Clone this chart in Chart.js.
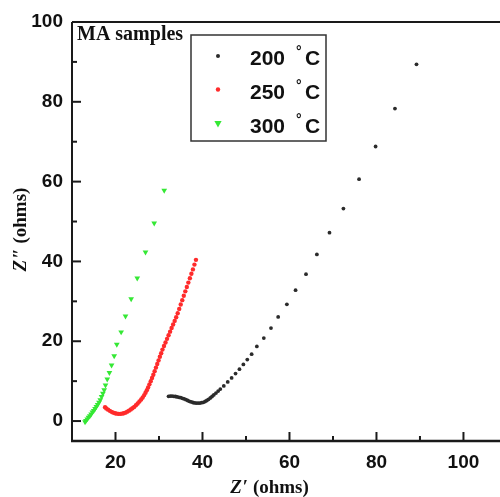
<!DOCTYPE html>
<html>
<head>
<meta charset="utf-8">
<script src="https://cdn.jsdelivr.net/npm/chart.js@4.4.1/dist/chart.umd.min.js"></script>
<style>
  html, body { margin: 0; padding: 0; background: #fff; }
  #wrap { width: 500px; height: 497px; }
</style>
</head>
<body>
<div id="wrap"><canvas id="c" width="500" height="497"></canvas></div>
<script>
// ---- data ----
const xTicks = [20, 40, 60, 80, 100];
const xMinorTicks = [30, 50, 70, 90];
const yTicks = [0, 20, 40, 60, 80, 100];
const yMinorTicks = [10, 30, 50, 70, 90];
const seriesNames = ['200', '250', '300'];

const data200 = [
  [32.2,6.2],[32.6,6.25],[33.0,6.25],[33.4,6.2],[33.8,6.15],[34.2,6.05],[34.6,5.95],
  [35.0,5.85],[35.4,5.7],[35.8,5.55],[36.2,5.35],[36.6,5.15],[37.0,4.95],[37.4,4.8],
  [37.8,4.65],[38.2,4.55],[38.6,4.5],[39.0,4.5],[39.4,4.5],[39.8,4.6],[40.2,4.7],
  [40.6,4.9],[41.0,5.15],[41.4,5.45],[41.8,5.8],[42.2,6.15],[42.6,6.55],[43.1,7.0],
  [43.6,7.5],[44.1,8.0],[44.9,8.8],[45.8,9.8],[46.7,10.8],[47.6,11.9],[48.5,13.0],
  [49.4,14.2],[50.3,15.4],[51.3,16.75],[52.5,18.7],[54.1,20.8],[55.75,23.3],[57.4,26.1],
  [59.4,29.25],[61.4,32.8],[63.8,36.8],[66.3,41.75],[69.2,47.2],[72.4,53.25],[76.0,60.6],
  [79.8,68.8],[84.25,78.3],[89.2,89.4]
];

const data250 = [
  [38.5,40.4],[38.15,39.2],[37.8,38.0],[37.45,36.9],[37.1,35.8],[36.75,34.7],[36.4,33.6],
  [36.05,32.5],[35.7,31.4],[35.35,30.3],[35.0,29.2],[34.65,28.1],[34.3,27.0],[33.95,26.0],
  [33.6,25.1],[33.25,24.2],[32.9,23.3],[32.55,22.4],[32.2,21.5],[31.85,20.6],[31.5,19.7],
  [31.15,18.8],[30.8,17.9],[30.5,17.0],[30.2,16.1],[29.9,15.2],[29.6,14.3],[29.3,13.4],
  [29.0,12.5],[28.7,11.6],[28.4,10.8],[28.1,10.0],[27.8,9.2],[27.5,8.4],[27.2,7.7],
  [26.9,7.1],[26.6,6.5],[26.25,5.9],[25.9,5.4],[25.5,4.9],[25.1,4.4],[24.7,3.95],
  [24.3,3.55],[23.9,3.2],[23.5,2.9],[23.1,2.6],[22.7,2.35],[22.3,2.1],[21.9,1.95],
  [21.5,1.85],[21.1,1.8],[20.7,1.8],[20.3,1.85],[19.9,1.95],[19.5,2.1],[19.1,2.3],
  [18.7,2.55],[18.3,2.85],[17.9,3.15],[17.6,3.45]
];

const data300 = [
  [31.2,57.8],[28.9,49.6],[26.9,42.3],[25.0,35.8],[23.6,30.6],[22.3,26.3],[21.3,22.3],
  [20.3,19.2],[19.7,16.3],[19.1,14.0],[18.6,12.1],[18.1,10.5],[17.7,9.0],[17.4,7.8],
  [17.1,6.9],[16.8,6.1],[16.5,5.3],[16.2,4.7],[15.9,4.1],[15.6,3.6],[15.3,3.1],
  [15.0,2.6],[14.7,2.2],[14.4,1.7],[14.1,1.3],[13.8,0.9],[13.5,0.5],[13.2,0.1],[13.0,-0.2]
];

const toPts = arr => arr.map(p => ({x: p[0], y: p[1]}));

const COL_BLACK = '#2b2b2b';
const COL_RED = '#ff2b2b';
const COL_GREEN = '#35e835';

const SANS = '"Liberation Sans", Arial, sans-serif';
const SERIF = '"Liberation Serif", "Times New Roman", serif';

const framePlugin = {
  id: 'frame',
  afterDraw(chart) {
    const ctx = chart.ctx;
    const a = chart.chartArea;
    const xs = chart.scales.x, ys = chart.scales.y;
    ctx.save();
    ctx.strokeStyle = '#1a1a1a';
    // top border
    ctx.lineWidth = 2;
    ctx.beginPath(); ctx.moveTo(a.left, a.top); ctx.lineTo(a.right, a.top); ctx.stroke();
    // left axis
    ctx.beginPath(); ctx.moveTo(a.left, a.top); ctx.lineTo(a.left, a.bottom); ctx.stroke();
    // bottom axis
    ctx.lineWidth = 2.5;
    ctx.beginPath(); ctx.moveTo(a.left - 1, a.bottom); ctx.lineTo(a.right, a.bottom); ctx.stroke();
    // inward ticks
    ctx.lineWidth = 2;
    xTicks.forEach(v => { const p = xs.getPixelForValue(v);
      ctx.beginPath(); ctx.moveTo(p, a.bottom); ctx.lineTo(p, a.bottom - 9); ctx.stroke(); });
    xMinorTicks.forEach(v => { const p = xs.getPixelForValue(v);
      ctx.beginPath(); ctx.moveTo(p, a.bottom); ctx.lineTo(p, a.bottom - 5); ctx.stroke(); });
    yTicks.forEach(v => { const p = ys.getPixelForValue(v);
      ctx.beginPath(); ctx.moveTo(a.left, p); ctx.lineTo(a.left + 9, p); ctx.stroke(); });
    yMinorTicks.forEach(v => { const p = ys.getPixelForValue(v);
      ctx.beginPath(); ctx.moveTo(a.left, p); ctx.lineTo(a.left + 5, p); ctx.stroke(); });

    // "MA samples"
    ctx.fillStyle = '#111';
    ctx.font = 'bold 20px ' + SERIF;
    ctx.textBaseline = 'alphabetic';
    ctx.textAlign = 'left';
    ctx.fillText('MA samples', 77, 40);

    // legend box
    const bx = 191, by = 35, bw = 135, bh = 106;
    ctx.lineWidth = 1.5;
    ctx.strokeStyle = '#333';
    ctx.strokeRect(bx, by, bw, bh);
    const rows = [
      {y: 65, my: 56, color: COL_BLACK, shape: 'circle', r: 2},
      {y: 98.5, my: 89.5, color: COL_RED, shape: 'circle', r: 2.2},
      {y: 132.5, my: 124, color: COL_GREEN, shape: 'tri', r: 3.6}
    ];
    rows.forEach((r, i) => {
      ctx.fillStyle = r.color;
      ctx.beginPath();
      if (r.shape === 'circle') {
        ctx.arc(218, r.my, r.r, 0, Math.PI * 2);
      } else {
        ctx.moveTo(218 - r.r, r.my - r.r * 0.8);
        ctx.lineTo(218 + r.r, r.my - r.r * 0.8);
        ctx.lineTo(218, r.my + r.r);
        ctx.closePath();
      }
      ctx.fill();
      ctx.fillStyle = '#111';
      ctx.font = 'bold 21px ' + SANS;
      ctx.fillText(seriesNames[i], 250, r.y);
      ctx.font = 'bold 14px ' + SANS;
      ctx.fillText('\u00B0', 296, r.y - 9);
      ctx.font = 'bold 21px ' + SANS;
      ctx.fillText('C', 305, r.y);
    });

    // x title: Z′ (ohms)
    ctx.fillStyle = '#111';
    const fz = 'italic bold 19px ' + SERIF;
    const fn = 'bold 19px ' + SERIF;
    ctx.font = fz; const wZ = ctx.measureText('Z').width;
    ctx.font = fn; const wP = ctx.measureText('\u2032').width;
    const wR = ctx.measureText(' (ohms)').width;
    let x0 = 269 - (wZ + wP + wR) / 2;
    const bl = 493;
    ctx.font = fz; ctx.fillText('Z', x0, bl);
    ctx.font = fn; ctx.fillText('\u2032', x0 + wZ + 1, bl);
    ctx.fillText(' (ohms)', x0 + wZ + wP + 1, bl);

    // y title: Z″ (ohms), rotated
    ctx.translate(26, 230);
    ctx.rotate(-Math.PI / 2);
    ctx.font = fz; const wZ2 = ctx.measureText('Z').width;
    ctx.font = fn; const wP2 = ctx.measureText('\u2033').width;
    const wR2 = ctx.measureText(' (ohms)').width;
    let y0 = -(wZ2 + wP2 + wR2) / 2;
    ctx.font = fz; ctx.fillText('Z', y0, 0);
    ctx.font = fn; ctx.fillText('\u2033', y0 + wZ2 + 1, 0);
    ctx.fillText(' (ohms)', y0 + wZ2 + wP2 + 1, 0);
    ctx.restore();
  }
};

new Chart(document.getElementById('c'), {
  type: 'scatter',
  data: {
    datasets: [
      {label: '200', data: toPts(data200), backgroundColor: COL_BLACK, borderColor: COL_BLACK,
       pointRadius: 1.9, borderWidth: 0, pointStyle: 'circle'},
      {label: '250', data: toPts(data250), backgroundColor: COL_RED, borderColor: COL_RED,
       pointRadius: 2.2, borderWidth: 0, pointStyle: 'circle'},
      {label: '300', data: toPts(data300), backgroundColor: COL_GREEN, borderColor: COL_GREEN,
       pointRadius: 3.3, borderWidth: 0, pointStyle: 'triangle', rotation: 180}
    ]
  },
  options: {
    responsive: false,
    animation: false,
    devicePixelRatio: 1,
    layout: {autoPadding: false, padding: {top: 22, right: 0, left: 0, bottom: 0}},
    plugins: {legend: {display: false}, tooltip: {enabled: false}, title: {display: false}},
    scales: {
      x: {
        type: 'linear', min: 10, max: 108.4,
        grid: {display: false, drawTicks: false},
        border: {display: false},
        afterBuildTicks: s => { s.ticks = xTicks.map(v => ({value: v})); },
        afterFit: s => { s.height = 56; },
        ticks: {font: {family: SANS, size: 19, weight: 'bold'}, color: '#111', padding: 10, maxRotation: 0}
      },
      y: {
        type: 'linear', min: -5, max: 100,
        grid: {display: false, drawTicks: false},
        border: {display: false},
        afterBuildTicks: s => { s.ticks = yTicks.map(v => ({value: v})); },
        afterFit: s => { s.width = 72; },
        ticks: {font: {family: SANS, size: 19, weight: 'bold'}, color: '#111', padding: 9}
      }
    }
  },
  plugins: [framePlugin]
});
</script>
</body>
</html>
